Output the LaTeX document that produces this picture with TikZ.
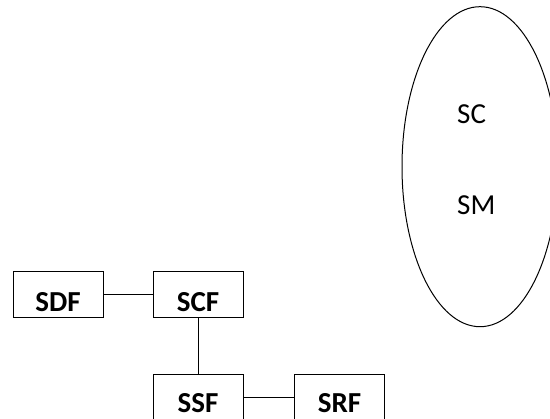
\documentclass[tikz,border=0pt]{standalone}
\usepackage{fontspec}
\setmainfont{Carlito}
\usetikzlibrary{shapes.geometric}
\begin{document}
\begin{tikzpicture}[x=1pt, y=-1pt, node distance=140pt, auto]
        \tikzstyle{func}=[draw, rectangle, line width=1pt, minimum width=90pt, minimum height=46pt, inner sep=0pt, text height=35pt, text depth=1.6pt, font=\fontsize{29}{34}\selectfont\bfseries];
        \tikzstyle{lowfunc}=[func, minimum height=45pt, text height=31pt];
        \tikzstyle{ringshape}=[draw, ellipse, line width=1pt, minimum width=156pt, minimum height=320pt, inner sep=0pt];
        \tikzstyle{lbl}=[anchor=base west, inner sep=0pt, font=\fontsize{29}{34}\selectfont];

        \useasboundingbox (0,0) rectangle (550,419);
        \clip (0,0) rectangle (550,419);

        \node[func] (sdf) at (58,295) {SDF};
        \node[func, right of=sdf] (scf) {SCF};
        \node[lowfunc, below of=scf, node distance=102.5pt] (ssf) {SSF};
        \node[lowfunc, right of=ssf, xshift=1.5pt] (srf) {SRF};

        \node[ringshape] (ring) at (480,166.7) {};
        \node[lbl] (sc) at (457,124) {SC};
        \node[lbl] (sm) at (457,215) {SM};

        \draw[line width=1pt] (sdf) -- (scf);
        \draw[line width=1pt] (scf) -- (ssf);
        \draw[line width=1pt] (ssf) -- (srf);
    \end{tikzpicture}
\end{document}
